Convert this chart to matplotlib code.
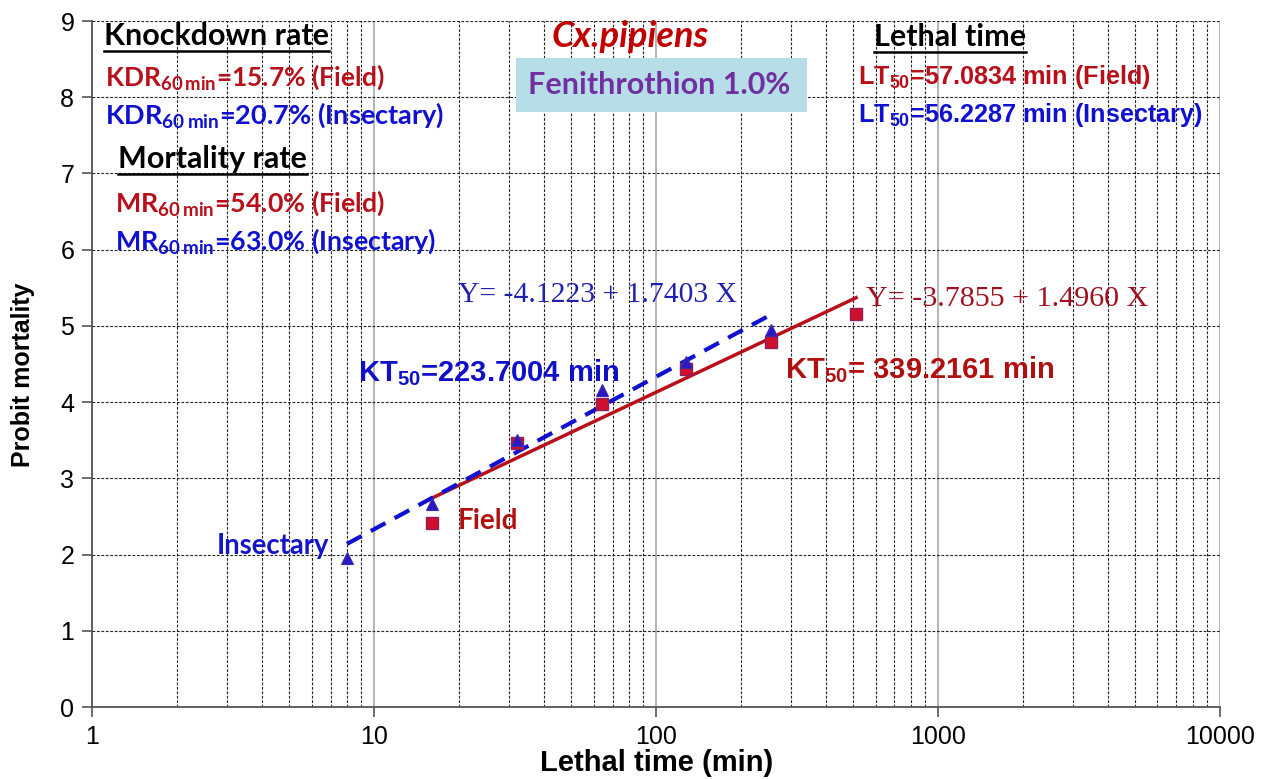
import numpy as np
import matplotlib
matplotlib.use("Agg")
import matplotlib.pyplot as plt
from matplotlib.ticker import LogLocator, FixedLocator, NullFormatter
from matplotlib.patches import Rectangle

# ---------------- data ----------------
time_field = [16, 32, 64, 128, 256, 512]
probit_field = [2.42, 3.46, 3.98, 4.44, 4.79, 5.16]

time_insect = [8, 16, 32, 64, 128, 256]
probit_insect = [1.96, 2.66, 3.50, 4.16, 4.53, 4.95]

# fitted regression lines (end points)
fit_field_x = [16, 512]
fit_field_y = [2.74, 5.37]
fit_insect_x = [8, 253]
fit_insect_y = [2.14, 5.14]

x_ticks = [1, 10, 100, 1000, 10000]
x_tick_labels = ["1", "10", "100", "1000", "10000"]
y_ticks = list(range(0, 10))

RED = "#B8101A"
BLUE = "#1010D0"
BLACK = "#000000"

# ---------------- figure ----------------
W, H = 1267.0, 779.0
fig = plt.figure(figsize=(12.67, 7.79), dpi=100)
ax = fig.add_axes([0.0729, 0.0924, 0.890, 0.8806])
ax.set_xscale("log")
ax.set_xlim(1, 10000)
ax.set_ylim(0, 9)

# grid
ax.xaxis.set_major_locator(FixedLocator(x_ticks))
ax.xaxis.set_minor_locator(LogLocator(base=10, subs=np.arange(2, 10)))
ax.xaxis.set_minor_formatter(NullFormatter())
ax.set_xticklabels(x_tick_labels)
ax.set_yticks(y_ticks)
ax.grid(True, which="major", axis="x", color="#A8A8A8", linestyle="-", linewidth=1.2, zorder=0)
ax.grid(True, which="minor", axis="x", color="#222222", linestyle=(0, (2.5, 1.5)), linewidth=0.8, zorder=0)
ax.grid(True, which="major", axis="y", color="#222222", linestyle=(0, (2.5, 1.5)), linewidth=0.8, zorder=0)
ax.set_axisbelow(True)

for s in ["top", "right"]:
    ax.spines[s].set_visible(False)
for s in ["left", "bottom"]:
    ax.spines[s].set_color("#555555")
    ax.spines[s].set_linewidth(1.3)
ax.tick_params(axis="both", which="major", length=7, width=1.2, color="#555555",
               labelsize=18, pad=6)
ax.tick_params(axis="x", which="minor", length=0)
for lab in ax.get_xticklabels() + ax.get_yticklabels():
    lab.set_fontfamily("Liberation Sans")

ax.set_xlabel("Lethal time (min)", fontsize=21, fontweight="bold",
              fontfamily="Liberation Sans", labelpad=0)
ax.set_ylabel("Probit mortality", fontsize=18, fontweight="bold",
              fontfamily="Liberation Sans")
ax.yaxis.set_label_coords(-0.051, 0.484)

# lines
ax.plot(fit_field_x, fit_field_y, color=RED, linewidth=2.5, zorder=3)
ax.plot(fit_insect_x, fit_insect_y, color=BLUE, linewidth=3, linestyle=(0, (4, 2.5)), zorder=4)

# markers
ax.plot(time_field, probit_field, linestyle="none", marker="s", markersize=8,
        markerfacecolor="#D0102A", markeredgecolor="#8A2060", markeredgewidth=1, zorder=5)
ax.plot(time_insect, probit_insect, linestyle="none", marker="^", markersize=9,
        markerfacecolor="#2A1AC0", markeredgecolor="#3A2AB0", markeredgewidth=0.8, zorder=6)

# ---------------- annotations ----------------
CAL = "Lato"
def fx(px):
    return px / W
def fy(py):
    return 1 - py / H

def heading(px, py, s, size=22):
    return fig.text(fx(px), fy(py), s, fontsize=size, fontweight="bold", fontfamily=CAL,
                    color=BLACK, ha="left", va="baseline")

heads = [(104, 45, "Knockdown rate"), (118, 168, "Mortality rate"), (874, 46, "Lethal time")]
head_objs = [heading(px, py, s) for px, py, s in heads]

fig.text(fx(105), fy(85), r"KDR$_{\mathregular{60\,min}}$=15.7% (Field)", fontsize=19,
         fontweight="bold", fontfamily=CAL, color=RED, va="baseline")
fig.text(fx(105), fy(123), r"KDR$_{\mathregular{60\,min}}$=20.7% (Insectary)", fontsize=19.5,
         fontweight="bold", fontfamily=CAL, color=BLUE, va="baseline")
fig.text(fx(115), fy(211), r"MR$_{\mathregular{60\,min}}$=54.0% (Field)", fontsize=19.3,
         fontweight="bold", fontfamily=CAL, color=RED, va="baseline")
fig.text(fx(115), fy(249), r"MR$_{\mathregular{60\,min}}$=63.0% (Insectary)", fontsize=19.3,
         fontweight="bold", fontfamily=CAL, color=BLUE, va="baseline")

fig.text(fx(630), fy(47), "Cx.pipiens", fontsize=26, fontweight="bold", fontstyle="italic",
         fontfamily=CAL, color="#C00000", ha="center", va="baseline")
fig.add_artist(Rectangle((fx(516), fy(112)), fx(807) - fx(516), fy(58) - fy(112),
                         transform=fig.transFigure, facecolor="#B7DDE8", edgecolor="none",
                         zorder=2))
fig.text(fx(659), fy(85), "Fenithrothion 1.0%", fontsize=22, fontweight="bold",
         fontfamily=CAL, color="#7030A0", ha="center", va="center", zorder=3)

fig.text(fx(858), fy(84), r"LT$_{\mathregular{50}}$=57.0834 min (Field)", fontsize=18.2,
         fontweight="bold", fontfamily="Liberation Sans", color=RED, va="baseline")
fig.text(fx(858), fy(122), r"LT$_{\mathregular{50}}$=56.2287 min (Insectary)", fontsize=18.2,
         fontweight="bold", fontfamily="Liberation Sans", color=BLUE, va="baseline")

fig.text(fx(458), fy(302), "Y= -4.1223 + 1.7403 X", fontsize=21.3, fontfamily="Liberation Serif",
         color="#2020B0", va="baseline")
fig.text(fx(866), fy(306), "Y= -3.7855 + 1.4960 X", fontsize=21.6, fontfamily="Liberation Serif",
         color="#A01020", va="baseline")

fig.text(fx(358), fy(381), r"KT$_{\mathregular{50}}$=223.7004 min", fontsize=21,
         fontweight="bold", fontfamily="Liberation Sans", color="#1010C8", va="baseline")
fig.text(fx(785), fy(378), r"KT$_{\mathregular{50}}$= 339.2161 min", fontsize=21,
         fontweight="bold", fontfamily="Liberation Sans", color="#B01010", va="baseline")

fig.text(fx(217), fy(554), "Insectary", fontsize=19.8, fontweight="bold", fontfamily=CAL,
         color="#1515C8", va="baseline")
fig.text(fx(458), fy(529), "Field", fontsize=20, fontweight="bold", fontfamily=CAL,
         color="#B01010", va="baseline")

# underline the headings
fig.canvas.draw()
r = fig.canvas.get_renderer()
for t in head_objs:
    bb = t.get_window_extent(renderer=r)
    y0 = bb.y0 - 1
    fig.add_artist(plt.Line2D([bb.x0 / W, bb.x1 / W], [y0 / H, y0 / H],
                              transform=fig.transFigure, color=BLACK, linewidth=1.8))

fig.savefig("out.png", dpi=100)
